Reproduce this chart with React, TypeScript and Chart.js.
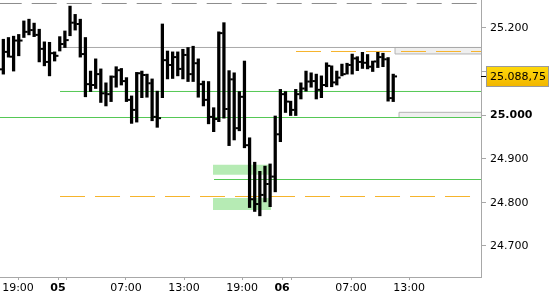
import React, { useEffect, useRef } from 'react';
import { Chart, registerables } from 'chart.js';

Chart.register(...registerables);

// ---- data (bar index = time slot) ----
const HIGHS = [
  25138, 25174, 25178, 25181, 25185, 25216, 25220, 25211, 25197, 25168,
  25167, 25145, 25180, 25193, 25250, 25231, 25220, 25178, 25101, 25129,
  25106, 25074, 25090, 25111, 25107, 25086, 25044, 25098, 25101, 25094,
  25083, 25055, 25209, 25147, 25145, 25145, 25151, 25155, 25158, 25129,
  25078, 25077, 25017, 25191, 25212, 25102, 25097, 25054, 25124, 24948,
  24892, 24871, 24883, 24888, 24998, 25059, 25054, 25032, 25059, 25074,
  25101, 25097, 25094, 25090, 25120, 25113, 25101, 25117, 25119, 25140,
  25134, 25144, 25139, 25124, 25144, 25142, 25132, 25094,
];
const LOWS = [
  25099, 25094, 25133, 25101, 25136, 25178, 25184, 25180, 25122, 25113,
  25090, 25124, 25147, 25155, 25182, 25195, 25133, 25042, 25054, 25061,
  25029, 25021, 25031, 25064, 25069, 25031, 24981, 24984, 25040, 25041,
  24987, 24972, 25040, 25083, 25084, 25090, 25083, 25077, 25077, 25041,
  25021, 24980, 24962, 24985, 24993, 24930, 24943, 24964, 24925, 24788,
  24779, 24769, 24801, 24790, 24824, 24939, 25006, 24999, 24999, 25037,
  25055, 25064, 25037, 25040, 25065, 25065, 25069, 25090, 25094, 25094,
  25102, 25107, 25106, 25100, 25109, 25111, 25032, 25031,
];
const CLOSES = [
  25105, 25145, 25134, 25171, 25171, 25191, 25195, 25184, 25152, 25122,
  25142, 25136, 25163, 25172, 25212, 25209, 25140, 25071, 25069, 25094,
  25050, 25048, 25088, 25103, 25078, 25035, 25012, 25096, 25092, 25073,
  24996, 24993, 25126, 25115, 25133, 25106, 25138, 25094, 25119, 25071,
  25035, 24996, 24991, 25188, 25014, 25082, 24970, 25042, 24931, 24807,
  24796, 24817, 24842, 24859, 24956, 25048, 25031, 25012, 25048, 25061,
  25077, 25078, 25058, 25069, 25113, 25075, 25086, 25094, 25115, 25130,
  25122, 25120, 25111, 25123, 25133, 25128, 25039, 25088.75,
];
const LAST_PRICE = 25088.75;

// axes
const Y_MIN = 24628.7;
const Y_MAX = 25264;
const Y_TICKS = [24700, 24800, 24900, 25000, 25100, 25200];
const Y_HIDDEN = [25100];
const Y_BOLD = [25000];
const X_MIN = 0.35;
const X_MAX = 94.11;
const X_TICKS = [3.86, 11.66, 13.41, 24.91, 36.22, 47.53, 55.33, 57.08, 68.77, 80.08];
const X_LABELS = ['19:00', '05', '', '07:00', '13:00', '19:00', '06', '', '07:00', '13:00'];
const X_BOLD = ['05', '06'];

// reference levels
const TOP_DASH = 25256;
const GREY_LEVEL = 25155.1;
const ORANGE_HIGH = 25145.9;
const GREEN_MID = 25054.2;
const GREEN_LOW = 24994.5;
const GREEN_DEEP = 24852.3;
const ORANGE_LOW = 24813.3;
const GREEN_BOX_1 = [24863.3, 24886.3];
const GREEN_BOX_2 = [24782.4, 24809.9];
const GREY_BOX_1 = [25140.2, 25155.1];
const GREY_BOX_2 = [24994.5, 25006.4];
// level x extents (bar index units)
const LEVEL_START = 12.05;
const GREEN_DEEP_START = 42.07;
const ORANGE_HIGH_START = 58.05;
const ORANGE_LOW_END = 91.97;
const GREEN_BOX_X = [41.87, 53.18];
const GREY_BOX_1_X = [77.35, X_MAX];
const GREY_BOX_2_X = [78.13, X_MAX];
const TICK_OFFSET = 0.49;

const FONT = 'DejaVu Sans';
const AXIS_GREY = '#a8a8a8';
const GREEN = '#55c855';
const ORANGE = '#f6b42c';

function fmt(v: number, decimals: number): string {
  const s = v.toFixed(decimals);
  const [intPart, dec] = s.split('.');
  const withSep = intPart.replace(/\B(?=(\d{3})+(?!\d))/g, '.');
  return dec ? withSep + ',' + dec : withSep;
}

function hline(x0: number, x1: number, y: number, color: string, dash: number[], order: number, dashOffset = 0) {
  return {
    type: 'line' as const,
    data: [{ x: x0, y }, { x: x1, y }],
    borderColor: color,
    borderWidth: 1,
    borderDash: dash,
    borderDashOffset: dashOffset,
    pointRadius: 0,
    pointHoverRadius: 0,
    fill: false,
    order,
  };
}

function boxFill(xr: number[], yr: number[], color: string, order: number) {
  return {
    type: 'line' as const,
    data: [{ x: xr[0], y: yr[1] }, { x: xr[1], y: yr[1] }],
    borderColor: 'rgba(0,0,0,0)',
    borderWidth: 1,
    backgroundColor: color,
    fill: { value: yr[0] },
    pointRadius: 0,
    pointHoverRadius: 0,
    order,
  };
}

function boxBorder(xr: number[], yr: number[], color: string, order: number) {
  return {
    type: 'line' as const,
    data: [
      { x: xr[1], y: yr[0] },
      { x: xr[0], y: yr[0] },
      { x: xr[0], y: yr[1] },
      { x: xr[1], y: yr[1] },
    ],
    borderColor: color,
    borderWidth: 1,
    pointRadius: 0,
    pointHoverRadius: 0,
    fill: false,
    order,
  };
}

// y tick labels + last price tag, positioned through the y scale
const axisText = {
  id: 'axisText',
  afterDraw(chart: any) {
    const ctx = chart.ctx;
    const ca = chart.chartArea;
    const ys = chart.scales.y;
    ctx.save();
    ctx.textBaseline = 'middle';
    ctx.textAlign = 'left';
    ctx.fillStyle = '#000';
    for (const v of Y_TICKS) {
      if (Y_HIDDEN.includes(v)) continue;
      ctx.font = `${Y_BOLD.includes(v) ? 'bold ' : ''}11px "${FONT}"`;
      ctx.fillText(fmt(v, 0), ca.right + 9, ys.getPixelForValue(v) + 0.5);
    }

    const y = Math.round(ys.getPixelForValue(LAST_PRICE));
    ctx.strokeStyle = '#000';
    ctx.lineWidth = 1;
    ctx.beginPath();
    ctx.moveTo(ca.right, y + 0.5);
    ctx.lineTo(ca.right + 5, y + 0.5);
    ctx.stroke();
    const left = ca.right + 5.5;
    const top = y - 9.5;
    const g = ctx.createLinearGradient(0, top, 0, top + 20);
    g.addColorStop(0, '#ffd90a');
    g.addColorStop(1, '#f2b600');
    ctx.fillStyle = g;
    ctx.fillRect(left, top, 62, 20);
    ctx.strokeStyle = '#9a9a9a';
    ctx.strokeRect(left, top, 62, 20);
    ctx.fillStyle = '#000';
    ctx.font = `11px "${FONT}"`;
    ctx.fillText(fmt(LAST_PRICE, 2), ca.right + 9, y + 1);
    ctx.restore();
  },
};

export default function App() {
  const ref = useRef<HTMLCanvasElement | null>(null);

  useEffect(() => {
    document.body.style.margin = '0';
    const canvas = ref.current;
    if (!canvas) return;

    const datasets: any[] = [
      {
        type: 'bar',
        data: HIGHS.map((h, i) => ({ x: i, y: [LOWS[i], h] })),
        backgroundColor: '#000',
        borderWidth: 0,
        borderSkipped: false,
        barThickness: 2.6,
        grouped: false,
        order: 1,
      },
      {
        type: 'scatter',
        data: CLOSES.map((c, i) => ({ x: i + TICK_OFFSET, y: c })),
        pointStyle: 'line',
        pointRadius: 1.3,
        pointHoverRadius: 1.3,
        pointBorderColor: '#000',
        pointBorderWidth: 2,
        showLine: false,
        order: 0,
      },
      hline(X_MIN, X_MAX, TOP_DASH, '#8c8c8c', [25, 10], 5, 3.3),
      hline(LEVEL_START, X_MAX, GREY_LEVEL, '#a9a9a9', [], 5),
      hline(ORANGE_HIGH_START, X_MAX, ORANGE_HIGH, ORANGE, [25, 10], 4),
      hline(LEVEL_START, X_MAX, GREEN_MID, GREEN, [], 5),
      hline(X_MIN, X_MAX, GREEN_LOW, GREEN, [], 5),
      hline(GREEN_DEEP_START, X_MAX, GREEN_DEEP, GREEN, [], 5),
      hline(LEVEL_START, ORANGE_LOW_END, ORANGE_LOW, ORANGE, [25, 10], 4),
      boxBorder(GREY_BOX_1_X, GREY_BOX_1, '#b4b4b4', 6),
      boxBorder(GREY_BOX_2_X, GREY_BOX_2, '#b4b4b4', 6),
      boxFill(GREY_BOX_1_X, GREY_BOX_1, '#efefef', 7),
      boxFill(GREY_BOX_2_X, GREY_BOX_2, '#efefef', 7),
      boxFill(GREEN_BOX_X, GREEN_BOX_1, '#b6ebb4', 7),
      boxFill(GREEN_BOX_X, GREEN_BOX_2, '#b6ebb4', 7),
    ];

    const chart = new Chart(canvas, {
      type: 'bar',
      data: { datasets },
      options: {
        responsive: false,
        animation: false,
        devicePixelRatio: 1,
        layout: { padding: 0, autoPadding: false },
        plugins: {
          legend: { display: false },
          tooltip: { enabled: false },
        },
        scales: {
          x: {
            type: 'linear',
            min: X_MIN,
            max: X_MAX,
            bounds: 'data',
            offset: false,
            grid: {
              drawOnChartArea: false,
              drawTicks: true,
              tickLength: 3,
              color: AXIS_GREY,
              offset: false,
            },
            border: { display: true, color: AXIS_GREY },
            afterBuildTicks: (scale: any) => {
              scale.ticks = X_TICKS.map((v) => ({ value: v }));
            },
            afterFit: (scale: any) => {
              scale.height = 23;
              scale.paddingLeft = 0;
              scale.paddingRight = 0;
            },
            ticks: {
              autoSkip: false,
              maxRotation: 0,
              minRotation: 0,
              padding: 2,
              color: '#000',
              callback: (_v: any, i: number) => X_LABELS[i],
              font: (c: any) => ({
                family: FONT,
                size: 11,
                weight: X_BOLD.includes(X_LABELS[c.index]) ? 'bold' : 'normal',
              }),
            },
          },
          y: {
            type: 'linear',
            position: 'right',
            min: Y_MIN,
            max: Y_MAX,
            bounds: 'data',
            grid: {
              drawOnChartArea: false,
              drawTicks: true,
              tickLength: 5,
              color: AXIS_GREY,
            },
            border: { display: true, color: AXIS_GREY },
            afterBuildTicks: (scale: any) => {
              scale.ticks = Y_TICKS.map((v) => ({ value: v }));
            },
            afterFit: (scale: any) => {
              scale.width = 69;
              scale.paddingTop = 0;
              scale.paddingBottom = 0;
            },
            ticks: {
              display: false,
            },
          },
        },
      } as any,
      plugins: [axisText],
    });

    return () => chart.destroy();
  }, []);

  return (
    <div style={{ width: 550, height: 300, background: '#fff' }}>
      <canvas ref={ref} width={550} height={300} style={{ display: 'block' }} />
    </div>
  );
}
